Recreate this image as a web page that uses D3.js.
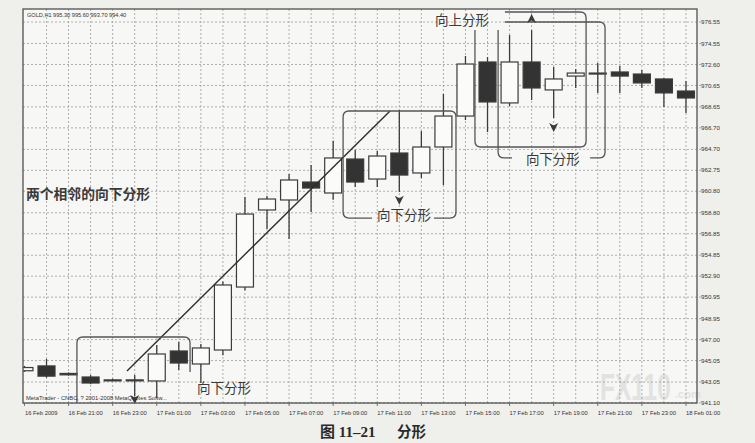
<!DOCTYPE html>
<html><head><meta charset="utf-8">
<script src="https://cdn.jsdelivr.net/npm/d3@7"></script>
<style>
html,body{margin:0;padding:0;background:#efefec;}
svg{display:block;}
</style></head><body>
<svg id="c" width="755" height="443"></svg>
<script>
// ---------- data ----------
const times = ["16 Feb 19:00","16 Feb 20:00","16 Feb 21:00","16 Feb 22:00","16 Feb 23:00","17 Feb 00:00",
  "17 Feb 01:00","17 Feb 02:00","17 Feb 03:00","17 Feb 04:00","17 Feb 05:00","17 Feb 06:00","17 Feb 07:00",
  "17 Feb 08:00","17 Feb 09:00","17 Feb 10:00","17 Feb 11:00","17 Feb 12:00","17 Feb 13:00","17 Feb 14:00",
  "17 Feb 15:00","17 Feb 16:00","17 Feb 17:00","17 Feb 18:00","17 Feb 19:00","17 Feb 20:00","17 Feb 21:00",
  "17 Feb 22:00","17 Feb 23:00","18 Feb 00:00","18 Feb 01:00"];
const opens  = [944.10,944.55,943.85,943.52,943.25,943.25,943.15,945.94,944.73,946.03,951.89,959.06,959.99,
  961.66,960.64,963.80,961.94,964.36,962.50,964.92,967.80,972.83,969.02,972.83,970.23,971.52,971.80,971.90,
  971.71,971.25,970.13];
const highs  = [944.55,945.20,943.95,943.70,943.35,943.70,946.50,946.78,946.60,952.40,960.27,960.36,962.41,
  963.24,965.50,964.64,964.55,968.36,966.41,969.85,973.39,973.29,975.34,975.80,972.36,972.18,972.73,972.45,
  972.08,971.35,971.06];
const lows   = [944.00,943.45,943.65,942.85,943.15,941.70,941.60,944.17,942.96,945.55,951.60,957.29,956.36,
  958.87,960.00,961.20,961.20,960.73,962.03,961.38,967.43,966.31,968.73,969.29,967.62,970.41,969.95,969.95,
  970.41,968.64,968.08];
const closes = [944.40,943.60,943.72,942.96,943.22,943.20,945.66,944.82,946.22,952.08,958.68,960.08,961.85,
  961.10,963.90,961.66,964.08,962.31,964.92,967.80,972.64,969.11,972.83,970.41,971.25,971.80,971.71,971.52,
  970.88,969.95,969.48];
const priceTicks = [976.55,974.55,972.60,970.65,968.65,966.70,964.70,962.75,960.80,958.80,956.85,954.85,
  952.90,950.95,948.95,947.00,945.05,943.05,941.10];
const timeLabels = ["16 Feb 2009","16 Feb 21:00","16 Feb 23:00","17 Feb 01:00","17 Feb 03:00","17 Feb 05:00",
  "17 Feb 07:00","17 Feb 09:00","17 Feb 11:00","17 Feb 13:00","17 Feb 15:00","17 Feb 17:00","17 Feb 19:00",
  "17 Feb 21:00","17 Feb 23:00","18 Feb 01:00"];
const timeLabelIndex = [0,2,4,6,8,10,12,14,16,18,20,22,24,26,28,30];
const header = "GOLD,H1  995.30 995.60 993.70 994.40";
const footer = "MetaTrader - CNBC, ? 2001-2008 MetaQuotes Softw...";
// trend line (bar index, price)
const trendLine = [[4.65,944.08],[16.58,968.27]];
// annotation brackets (bar index, price)
const brackets = [
  [[2.38,941.10],[2.38,947.24],[7.51,947.24],[7.51,943.98]],
  [[15.76,958.31],[14.45,958.31],[14.45,968.27],[19.57,968.27],[19.57,958.31],[18.57,958.31]],
  [[20.43,975.80],[20.43,964.92],[25.47,964.92],[25.47,977.48],[21.79,977.48]],
  [[22.11,963.90],[21.48,963.90],[21.48,975.80]],
  [[21.79,976.55],[26.33,976.55],[26.33,963.90],[25.65,963.90]]
];
const labels = [
  {t:"向上分形", i:18.62, p:976.27, size:13.5, w:400},
  {t:"向下分形", i:15.99, p:958.13, size:13.5, w:400},
  {t:"向下分形", i:22.74, p:963.34, size:13.5, w:400},
  {t:"向下分形", i:7.82,  p:942.03, size:13.5, w:400},
  {t:"两个相邻的向下分形", i:0.07, p:960.08, size:13.8, w:700}
];
const upArrows = [[23,976.83]];
const downArrows = [[24,966.78],[17,960.00],[5,941.47]];

// ---------- layout ----------
const L=23, R=697, T=9, B=403;
const svg = d3.select("#c");
const x = d3.scaleLinear().domain([-0.066,30.5]).range([L,R]);
const y = d3.scaleLinear().domain([941.10,977.76]).range([B,T]);
const ink = "#3c3c3c";

svg.append("rect").attr("width",755).attr("height",443).attr("fill","#efefec");
svg.append("rect").attr("x",L).attr("y",T).attr("width",R-L).attr("height",B-T).attr("fill","#f7f7f5");

svg.append("defs").append("clipPath").attr("id","clip")
  .append("rect").attr("x",L).attr("y",T).attr("width",R-L).attr("height",B-T);

// watermark (kept inside the plot frame)
const wm = svg.append("g").attr("fill","#e2e2e0").attr("font-family","Liberation Sans, Arial, sans-serif").attr("font-weight",700);
wm.append("text").attr("transform","translate(600,400) scale(0.68,1)").attr("font-size",36).text("FX110");
wm.append("text").attr("x",675).attr("y",398).attr("font-size",11).text(".com");

// grid
const grid = svg.append("g").attr("stroke","#9c9c9c").attr("stroke-width",0.8).attr("stroke-dasharray","2,2");
grid.selectAll("line.h").data(priceTicks).join("line")
  .attr("x1",L).attr("x2",R+4).attr("y1",d=>y(d)).attr("y2",d=>y(d));
grid.selectAll("line.v").data(d3.range(1,31)).join("line")
  .attr("x1",d=>x(d)).attr("x2",d=>x(d)).attr("y1",T).attr("y2",B);

// candles
const g = svg.append("g").attr("clip-path","url(#clip)");
const bw = (x(1)-x(0))*0.77;
const idx = d3.range(opens.length);
g.selectAll("line.wick").data(idx).join("line")
  .attr("x1",i=>x(i)).attr("x2",i=>x(i)).attr("y1",i=>y(highs[i])).attr("y2",i=>y(lows[i]))
  .attr("stroke",ink).attr("stroke-width",1.3);
g.selectAll("rect.body").data(idx).join("rect")
  .attr("x",i=>x(i)-bw/2).attr("width",bw)
  .attr("y",i=>y(Math.max(opens[i],closes[i])))
  .attr("height",i=>Math.max(1,Math.abs(y(opens[i])-y(closes[i]))))
  .attr("fill",i=>closes[i]>=opens[i]?"#fbfbfa":"#333")
  .attr("stroke",ink).attr("stroke-width",1.2);

// trend line
svg.append("line")
  .attr("x1",x(trendLine[0][0])).attr("y1",y(trendLine[0][1]))
  .attr("x2",x(trendLine[1][0])).attr("y2",y(trendLine[1][1]))
  .attr("stroke","#2e2e2e").attr("stroke-width",1.4);

// brackets
function roundPath(pts,r){
  let d=`M${pts[0][0]},${pts[0][1]}`;
  for(let k=1;k<pts.length-1;k++){
    const [x0,y0]=pts[k-1],[x1,y1]=pts[k],[x2,y2]=pts[k+1];
    const d1=Math.hypot(x1-x0,y1-y0), d2=Math.hypot(x2-x1,y2-y1);
    const rr=Math.min(r,d1/2,d2/2);
    const ax=x1+(x0-x1)*rr/d1, ay=y1+(y0-y1)*rr/d1;
    const bx=x1+(x2-x1)*rr/d2, by=y1+(y2-y1)*rr/d2;
    d+=`L${ax},${ay}Q${x1},${y1} ${bx},${by}`;
  }
  const last=pts[pts.length-1]; d+=`L${last[0]},${last[1]}`;
  return d;
}
svg.append("g").selectAll("path").data(brackets).join("path")
  .attr("d",b=>roundPath(b.map(([i,p])=>[x(i),y(p)]),6))
  .attr("fill","none").attr("stroke","#555").attr("stroke-width",1.3);

// arrows
svg.append("g").selectAll("path.up").data(upArrows).join("path")
  .attr("d","M0,-5 L4.5,4 L0,1.5 L-4.5,4 Z")
  .attr("transform",d=>`translate(${x(d[0])},${y(d[1])})`).attr("fill","#3a3a3a");
svg.append("g").selectAll("path.dn").data(downArrows).join("path")
  .attr("d","M0,5 L4.5,-4 L0,-1.5 L-4.5,-4 Z")
  .attr("transform",d=>`translate(${x(d[0])},${y(d[1])})`).attr("fill","#3a3a3a");

// annotation labels
svg.append("g").selectAll("text").data(labels).join("text")
  .attr("x",d=>x(d.i)).attr("y",d=>y(d.p))
  .attr("font-family","Noto Sans CJK SC, sans-serif")
  .attr("font-size",d=>d.size).attr("font-weight",d=>d.w).attr("fill","#3a3a3a")
  .text(d=>d.t);

// frame
svg.append("rect").attr("x",L).attr("y",T).attr("width",R-L).attr("height",B-T)
  .attr("fill","none").attr("stroke","#505050").attr("stroke-width",1.3);

// axis labels
const small = "Liberation Sans, Arial, sans-serif";
svg.append("g").selectAll("text").data(priceTicks).join("text")
  .attr("x",R+4).attr("y",d=>y(d)+2.1)
  .attr("font-family",small).attr("font-size",6.2).attr("fill","#333")
  .text(d=>d.toFixed(2));
svg.append("g").selectAll("line").data(timeLabelIndex).join("line")
  .attr("x1",d=>x(d)).attr("x2",d=>x(d)).attr("y1",B).attr("y2",B+3)
  .attr("stroke","#555").attr("stroke-width",0.8);
svg.append("g").selectAll("text").data(timeLabels).join("text")
  .attr("x",(d,k)=>Math.max(L+2,x(timeLabelIndex[k])))
  .attr("y",B+12)
  .attr("font-family",small).attr("font-size",5.8).attr("fill","#333")
  .text(d=>d);

svg.append("text").attr("x",L+4).attr("y",T+8).attr("font-family",small).attr("font-size",5.6)
  .attr("fill","#333").text(header);
svg.append("text").attr("x",L+3).attr("y",B-3).attr("font-family",small).attr("font-size",5.8)
  .attr("fill","#333").text(footer);

// caption
svg.append("text").attr("x",320).attr("y",437)
  .attr("font-family","Liberation Serif, Noto Sans CJK SC, serif").attr("font-weight",700)
  .attr("font-size",15).attr("fill","#2a2a2a").text("图 11–21");
svg.append("text").attr("x",397).attr("y",437)
  .attr("font-family","Noto Sans CJK SC, sans-serif").attr("font-weight",700)
  .attr("font-size",14.5).attr("fill","#2a2a2a").text("分形");
</script>
</body></html>
